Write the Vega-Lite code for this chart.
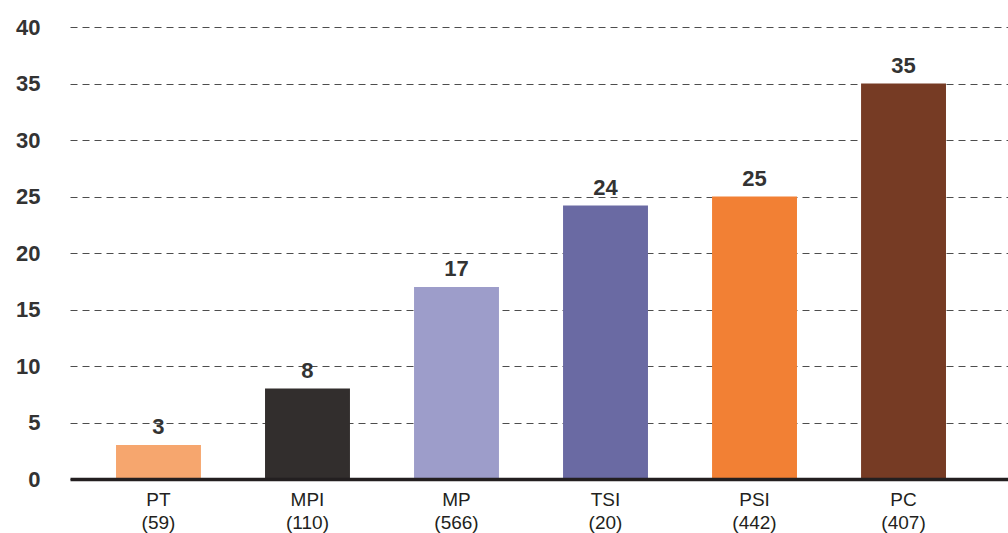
{
  "$schema": "https://vega.github.io/schema/vega-lite/v6.json",
  "autosize": "none",
  "width": 938,
  "height": 452,
  "padding": {"left": 70, "top": 27, "right": 0, "bottom": 54},
  "background": "white",
  "config": {"view": {"stroke": null}, "font": "Liberation Sans"},
  "data": {
    "values": [
      {"group": "PT", "n": "(59)", "value": 3, "color": "#F6A66E"},
      {"group": "MPI", "n": "(110)", "value": 8, "color": "#322E2D"},
      {"group": "MP", "n": "(566)", "value": 17, "color": "#9D9DCA"},
      {"group": "TSI", "n": "(20)", "value": 24.2, "color": "#6A6AA3"},
      {"group": "PSI", "n": "(442)", "value": 25, "color": "#F28034"},
      {"group": "PC", "n": "(407)", "value": 35, "color": "#763B24"}
    ]
  },
  "transform": [
    {"calculate": "datum.group + '|' + datum.n", "as": "label"},
    {"calculate": "round(datum.value)", "as": "shown"}
  ],
  "encoding": {
    "x": {
      "field": "label",
      "type": "nominal",
      "sort": null,
      "scale": {"paddingInner": 0.43, "paddingOuter": 0.3625, "align": 0.426},
      "axis": {
        "title": null,
        "labelAngle": 0,
        "labelExpr": "split(datum.value, '|')",
        "labelFontSize": 19,
        "labelLineHeight": 23,
        "labelColor": "#231f20",
        "labelPadding": 11,
        "ticks": false,
        "domainColor": "#231f20",
        "domainWidth": 3.5,
        "domainCap": "butt",
        "zindex": 1
      }
    }
  },
  "layer": [
    {
      "mark": {"type": "bar"},
      "encoding": {
        "y": {
          "field": "value",
          "type": "quantitative",
          "scale": {"domain": [0, 40], "nice": false},
          "axis": {
            "title": null,
            "values": [0, 5, 10, 15, 20, 25, 30, 35, 40],
            "domain": false,
            "ticks": false,
            "labelFontSize": 22,
            "labelFontWeight": "bold",
            "labelColor": "#333333",
            "labelPadding": 30,
            "grid": true,
            "gridColor": "#4d4d4d",
            "gridDash": [7, 5],
            "gridWidth": 1
          }
        },
        "color": {"field": "color", "type": "nominal", "scale": null}
      }
    },
    {
      "mark": {"type": "text", "baseline": "alphabetic", "dy": -11, "fontSize": 22, "fontWeight": "bold", "color": "#333333"},
      "encoding": {
        "y": {"field": "value", "type": "quantitative"},
        "text": {"field": "shown", "type": "quantitative"}
      }
    }
  ]
}
